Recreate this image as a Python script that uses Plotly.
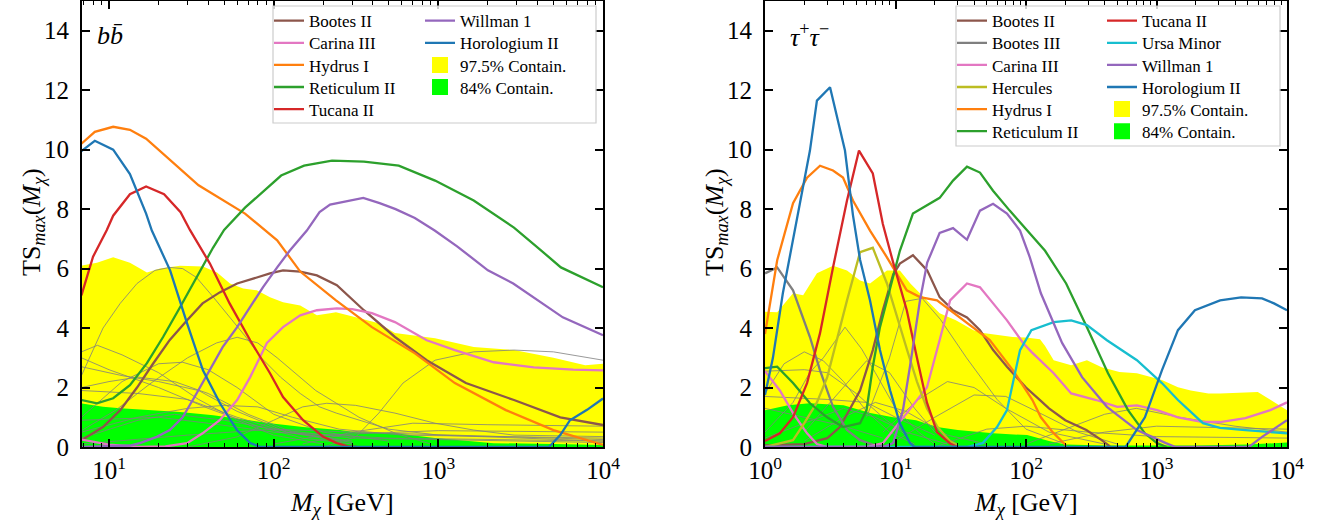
import plotly.graph_objects as go

# ---------------- data : b bbar channel (left) ----------------
bb_bootes2_m = [6.8, 9.2, 11.7, 14.8, 18.5, 23.4, 29.8, 37, 47, 60, 79, 95, 114, 145, 183, 242, 353, 545, 850, 1470, 2880, 5500, 10000]
bb_bootes2_ts = [0.23, 0.67, 1.24, 2.0, 2.8, 3.6, 4.26, 4.83, 5.2, 5.5, 5.7, 5.84, 5.94, 5.9, 5.77, 5.44, 4.6, 3.7, 2.92, 2.15, 1.58, 1.0, 0.74]
bb_carina3_m = [6.8, 10, 15, 22, 29.8, 37, 47, 60, 72, 91, 114, 145, 183, 242, 300, 395, 545, 850, 1260, 2170, 3800, 6600, 10000]
bb_carina3_ts = [0.25, 0.08, 0.0, 0.02, 0.13, 0.46, 0.9, 1.58, 2.35, 3.5, 4.03, 4.43, 4.6, 4.66, 4.64, 4.5, 4.2, 3.59, 3.26, 2.85, 2.68, 2.6, 2.58]
bb_hydrus1_m = [6.8, 8.2, 10.6, 13.4, 16.8, 21.6, 35, 67, 105, 145, 239, 395, 721, 1260, 2570, 5000, 10000]
bb_hydrus1_ts = [10.2, 10.6, 10.77, 10.67, 10.37, 9.83, 8.8, 7.85, 6.95, 5.9, 4.93, 4.03, 3.15, 2.15, 1.24, 0.57, 0.07]
bb_reticulum2_m = [6.8, 8.45, 10.6, 13.4, 17, 21.3, 27, 34.2, 42.8, 50, 67, 111, 153, 226, 353, 575, 955, 1640, 2880, 4030, 5550, 10000]
bb_reticulum2_ts = [1.58, 1.47, 1.64, 2.08, 2.82, 3.7, 4.7, 5.7, 6.7, 7.3, 8.05, 9.13, 9.46, 9.63, 9.6, 9.46, 8.96, 8.29, 7.38, 6.7, 6.04, 5.37]
bb_tucana2_m = [6.8, 8.0, 9.7, 10.6, 13.4, 16.8, 21.6, 27.2, 31, 41, 54, 72, 95, 114, 151, 200, 242, 283, 320]
bb_tucana2_ts = [5.1, 6.4, 7.3, 7.78, 8.5, 8.76, 8.5, 7.9, 7.3, 6.17, 4.83, 3.59, 2.48, 1.68, 0.9, 0.34, 0.13, 0.02, 0.0]
bb_willman1_m = [6.8, 13.4, 15.4, 19.5, 23.4, 28, 34, 41, 49, 60, 72, 86, 105, 125, 159, 190, 220, 300, 350, 440, 550, 720, 950, 1300, 2000, 2850, 4000, 5700, 10000]
bb_willman1_ts = [0.0, 0.05, 0.13, 0.34, 0.57, 1.0, 1.8, 2.58, 3.36, 4.03, 4.7, 5.37, 6.04, 6.6, 7.28, 7.9, 8.15, 8.3, 8.38, 8.2, 8.0, 7.7, 7.28, 6.75, 5.94, 5.5, 4.93, 4.36, 3.76]
bb_horologium2_m = [6.8, 8.2, 10.6, 13.4, 16.8, 18.2, 23.5, 29.8, 37.2, 47.2, 59.8, 72, 83, 4700, 5500, 6300, 8000, 10000]
bb_horologium2_ts = [9.95, 10.3, 10.0, 9.18, 7.85, 7.28, 5.94, 4.16, 2.58, 1.47, 0.57, 0.13, 0.0, 0.0, 0.4, 0.9, 1.25, 1.63]
bb_c975_m = [6.8, 8.45, 10.6, 13.4, 17, 20.4, 27, 37.2, 45.3, 54.3, 65.3, 79, 95, 114, 145, 183, 220, 239, 315, 435, 545, 955, 1640, 2880, 5000, 7800, 10000]
bb_c975_ts = [6.1, 6.2, 6.38, 6.2, 5.87, 6.0, 6.1, 6.07, 5.87, 5.5, 5.33, 5.27, 5.04, 4.87, 4.76, 4.43, 4.5, 4.53, 4.36, 4.16, 3.83, 3.66, 3.36, 3.26, 3.0, 2.75, 2.8]
bb_c84_m = [6.8, 9.2, 11.7, 18.5, 27, 43, 69, 95, 151, 253, 315, 545, 955, 2170, 5000, 10000]
bb_c84_ts = [1.47, 1.35, 1.3, 1.24, 1.18, 1.07, 0.9, 0.8, 0.67, 0.57, 0.5, 0.46, 0.3, 0.13, 0.1, 0.07]
bb_grey = [
    ([6.8, 9.2, 11.7, 14.8, 19, 23.4, 28, 34, 43, 54, 68, 84, 110, 145, 190, 240, 500, 1000, 10000],
     [2.4, 4.0, 4.83, 5.5, 5.94, 6.04, 6.0, 5.7, 5.04, 4.36, 3.69, 3.0, 2.35, 1.8, 1.35, 1.14, 0.6, 0.4, 0.2]),
    ([6.8, 11, 18, 30, 45, 60, 80, 105, 180, 330, 550, 900], [0.55, 1.24, 2.15, 3.0, 3.5, 3.69, 3.5, 3.0, 1.9, 1.0, 0.46, 0.1]),
    ([200, 315, 435, 610, 955, 1640, 2880, 5000, 10000], [0.0, 0.34, 1.14, 2.15, 2.92, 3.2, 3.26, 3.2, 2.92]),
    ([30, 60, 100, 150, 210, 315, 545, 955, 1640, 2880, 10000], [0.0, 0.34, 0.9, 1.35, 1.47, 1.4, 1.14, 0.8, 0.57, 0.4, 0.35]),
    ([6.8, 15, 30, 50, 80, 130, 250, 600, 10000], [0.5, 1.0, 1.3, 1.4, 1.35, 1.0, 0.6, 0.4, 0.3]),
    ([6.8, 8.5, 12, 20, 35, 60, 100, 200], [3.2, 3.42, 3.1, 2.5, 1.6, 0.9, 0.4, 0.1]),
    ([6.8, 10, 20, 40, 80, 150, 300], [3.0, 2.6, 2.0, 1.3, 0.7, 0.3, 0.1]),
    ([6.8, 10, 15, 25, 40, 70, 130, 300], [2.0, 2.2, 2.35, 2.2, 1.8, 1.1, 0.5, 0.15]),
    ([6.8, 12, 20, 35, 60, 120, 250], [2.7, 2.4, 2.2, 1.9, 1.2, 0.5, 0.2]),
    ([6.8, 15, 30, 60, 120, 300], [1.9, 1.8, 1.6, 1.0, 0.5, 0.2]),
    ([6.8, 12, 20, 28, 40, 60, 100, 200, 500], [1.0, 2.2, 2.8, 2.85, 2.6, 2.0, 1.1, 0.5, 0.2]),
    ([6.8, 15, 25, 50, 100, 300, 10000], [0.3, 0.9, 1.1, 0.9, 0.6, 0.3, 0.15]),
    ([6.8, 20, 40, 100, 500, 10000], [0.9, 1.0, 0.8, 0.5, 0.3, 0.2]),
    ([150, 300, 700, 2000, 10000], [0.1, 0.5, 0.8, 0.75, 0.7]),
    ([100, 200, 1000, 10000], [0.1, 0.4, 0.55, 0.5]),
    ([6.8, 30, 100, 300, 10000], [0.1, 0.4, 0.6, 0.5, 0.25]),
]

# ---------------- data : tau+ tau- channel (right) ----------------
tt_bootes2_m = [1.0, 2.0, 3.0, 3.75, 5.35, 6.7, 8.0, 9.6, 10.8, 13.6, 17.5, 21.8, 27.6, 35.3, 44.4, 56, 71.5, 100, 128, 150, 200, 290, 380, 440]
tt_bootes2_ts = [0.05, 0.1, 0.3, 0.67, 1.9, 3.26, 4.6, 5.8, 6.17, 6.45, 5.94, 5.04, 4.6, 4.36, 3.93, 3.26, 2.7, 2.0, 1.58, 1.3, 0.9, 0.57, 0.23, 0.02]
tt_bootes3_m = [1.0, 1.24, 1.64, 2.21, 2.64, 3.32, 4.25, 5.35, 7.0, 9.0]
tt_bootes3_ts = [5.84, 6.04, 5.27, 3.7, 2.58, 1.35, 0.57, 0.23, 0.05, 0.0]
tt_carina3_m = [1.0, 1.3, 1.64, 2.1, 2.5, 3.0, 6.0, 8.0, 12.2, 17.4, 21.8, 26.2, 35.3, 44.4, 56, 71.5, 95, 110, 163, 222, 345, 500, 708, 1010, 1460, 2270, 3070, 4800, 7450, 10000]
tt_carina3_ts = [2.55, 1.9, 1.14, 0.46, 0.1, 0.0, 0.0, 0.13, 1.14, 2.0, 3.6, 4.93, 5.5, 5.37, 4.83, 4.26, 3.5, 3.2, 2.48, 1.8, 1.58, 1.35, 1.4, 1.24, 1.0, 0.84, 0.84, 0.97, 1.24, 1.5]
tt_hercules_m = [1.0, 1.64, 2.0, 2.5, 3.0, 3.5, 4.25, 5.35, 6.7, 8.6, 10.2, 12.2, 14.6, 17.4, 20.8, 26, 30]
tt_hercules_ts = [0.0, 0.23, 0.8, 1.5, 2.35, 3.5, 4.93, 6.55, 6.7, 5.5, 4.4, 3.3, 2.2, 1.3, 0.7, 0.2, 0.05]
tt_hydrus1_m = [1.0, 1.24, 1.64, 2.1, 2.64, 3.32, 3.96, 4.72, 6.38, 8.6, 12.2, 15.4, 20.8, 26.2, 35.3, 52.8, 79.5, 112, 130, 160, 203]
tt_hydrus1_ts = [3.8, 6.28, 8.2, 9.06, 9.46, 9.3, 9.06, 8.29, 7.28, 6.38, 5.27, 5.04, 4.93, 4.6, 4.2, 3.6, 2.58, 1.58, 1.0, 0.5, 0.05]
tt_reticulum2_m = [1.0, 1.24, 1.64, 2.21, 2.99, 3.96, 5.35, 6.0, 6.7, 7.6, 8.6, 10.8, 13.6, 17.5, 21.8, 27.6, 35.3, 44.4, 55.9, 75, 102, 140, 203, 293, 425, 605, 815, 1010, 1200]
tt_reticulum2_ts = [2.65, 2.7, 2.15, 1.47, 1.0, 0.67, 0.8, 1.24, 2.7, 4.03, 4.93, 6.6, 7.85, 8.12, 8.38, 8.96, 9.43, 9.23, 8.62, 7.95, 7.28, 6.6, 5.5, 4.03, 2.48, 1.24, 0.46, 0.13, 0.0]
tt_tucana2_m = [1.0, 1.3, 1.64, 2.1, 2.64, 3.32, 4.25, 5.25, 6.7, 8.0, 9.6, 12.2, 14.6, 17.4, 20.8, 26.2, 30]
tt_tucana2_ts = [0.2, 0.46, 1.0, 2.15, 3.83, 6.04, 8.29, 9.97, 9.2, 7.5, 6.2, 4.6, 3.0, 1.5, 0.5, 0.12, 0.0]
tt_ursaminor_m = [1.0, 35, 46.6, 60, 71.5, 90, 110, 163, 222, 293, 417, 708, 1100, 1460, 2270, 3070, 4800, 7450, 10000]
tt_ursaminor_ts = [0.0, 0.0, 0.13, 0.67, 1.24, 3.26, 3.93, 4.2, 4.26, 4.1, 3.59, 2.92, 2.15, 1.58, 0.8, 0.64, 0.57, 0.5, 0.46]
tt_willman1_m = [1.0, 8.0, 9.6, 11.4, 12.9, 14.1, 15.4, 17.5, 21.8, 27.6, 35.3, 44.4, 55.9, 71.5, 90, 107, 130, 189, 269, 417, 708, 1180, 1400, 5100, 6440, 10000]
tt_willman1_ts = [0.0, 0.0, 0.13, 1.24, 2.7, 3.83, 4.93, 6.2, 7.2, 7.36, 6.97, 7.95, 8.18, 7.85, 7.28, 6.38, 5.17, 3.5, 2.35, 1.35, 0.57, 0.13, 0.0, 0.0, 0.34, 0.9]
tt_horologium2_m = [1.0, 1.15, 1.37, 1.64, 1.96, 2.21, 2.5, 3.15, 4.1, 4.72, 5.35, 6.38, 7.6, 9.1, 10.8, 12.9, 14, 580, 815, 1100, 1460, 1970, 3070, 4450, 6440, 7950, 10000]
tt_horologium2_ts = [1.75, 3.0, 5.17, 6.95, 8.7, 9.97, 11.65, 12.1, 9.97, 7.8, 6.3, 4.93, 3.26, 1.9, 0.8, 0.13, 0.0, 0.0, 1.0, 2.58, 3.93, 4.6, 4.93, 5.03, 5.0, 4.83, 4.6]
tt_c975_m = [1.0, 1.24, 1.64, 1.96, 2.5, 3.32, 4.25, 5.35, 6.38, 8.6, 10.8, 13, 16.5, 21.8, 29, 39.6, 47, 62, 79, 100, 128, 140, 163, 222, 293, 380, 520, 708, 1100, 1460, 1830, 2500, 3070, 5970, 7450, 10000]
tt_c975_ts = [4.55, 4.53, 5.17, 5.1, 5.84, 6.1, 5.94, 5.6, 5.5, 5.94, 5.94, 5.5, 5.04, 4.5, 4.26, 3.93, 3.83, 3.75, 3.7, 3.68, 3.62, 3.4, 2.92, 2.75, 2.92, 2.68, 2.52, 2.48, 2.25, 2.01, 1.9, 1.8, 1.8, 1.85, 1.58, 1.24]
tt_c84_m = [1.0, 1.5, 2.2, 4.0, 6.4, 9.6, 14.4, 20.8, 30, 56, 102, 150, 200, 400, 2000, 5000, 10000]
tt_c84_ts = [1.24, 1.4, 1.47, 1.4, 1.14, 1.0, 0.9, 0.67, 0.57, 0.46, 0.4, 0.2, 0.08, 0.05, 0.05, 0.08, 0.15]
tt_grey = [
    ([1.0, 1.4, 2.0, 2.8, 4.0, 6.0, 9.0, 14.0], [1.8, 2.8, 3.2, 2.9, 2.2, 1.2, 0.5, 0.1]),
    ([1.0, 1.64, 2.2, 2.8, 4.1, 5.5, 7.0, 10.0, 15.0, 20.0], [0.5, 1.5, 2.5, 3.0, 4.03, 3.3, 2.5, 1.3, 0.5, 0.1]),
    ([1.0, 2.0, 3.0, 5.0, 8.0, 12.0], [2.55, 2.6, 2.5, 1.8, 1.0, 0.4]),
    ([2.0, 4.0, 6.0, 9.0, 14.0, 20.0, 30.0], [0.5, 2.0, 2.9, 2.5, 1.3, 0.5, 0.1]),
    ([6.0, 9.0, 12.0, 16.0, 22.0, 35.0, 60.0, 100.0, 200.0], [1.0, 3.0, 4.9, 5.0, 4.3, 3.0, 1.6, 0.6, 0.1]),
    ([10, 20, 40, 70, 120, 250, 500], [0.2, 1.0, 1.75, 1.7, 1.2, 0.5, 0.1]),
    ([8, 15, 25, 40, 70, 150, 400], [0.5, 1.6, 2.2, 2.0, 1.3, 0.5, 0.1]),
    ([100, 200, 400, 700, 1500, 4000, 10000], [0.1, 0.6, 1.1, 1.3, 1.0, 0.7, 0.5]),
    ([150, 400, 1000, 3000, 10000], [0.1, 0.5, 0.7, 0.65, 0.6]),
    ([20, 50, 100, 300, 1000, 10000], [0.0, 0.6, 0.7, 0.5, 0.35, 0.3]),
    ([1.0, 2.0, 4.0, 8.0], [1.3, 1.0, 0.7, 0.3]),
    ([1.0, 2.0, 4.0, 7.0, 12.0, 25.0], [0.3, 0.8, 1.3, 1.0, 0.5, 0.1]),
    ([1.0, 3.0, 6.0, 10.0, 20.0], [1.7, 1.6, 1.5, 1.0, 0.4]),
    ([2.0, 4.0, 7.0, 12.0, 25.0, 50.0], [0.2, 1.0, 1.5, 1.2, 0.4, 0.1]),
]

x_tickvals = [1, 10, 100, 1000, 10000]
x_ticktext = ["10<sup>0</sup>", "10<sup>1</sup>", "10<sup>2</sup>", "10<sup>3</sup>", "10<sup>4</sup>"]
y_tickvals = [0, 2, 4, 6, 8, 10, 12, 14]

C = dict(brown="#8c564b", pink="#e377c2", orange="#ff7f0e", green="#2ca02c", red="#d62728",
         purple="#9467bd", blue="#1f77b4", grey="#7f7f7f", olive="#bcbd22", cyan="#17becf")
YELLOW, LIME = "#ffff00", "#00ff00"
GREY_THIN = "rgba(128,128,128,0.8)"
FONT = "Liberation Serif"
LEG_SIZE = 17

W, H = 1333, 524
PB = 447  # pixel row of plot bottom
PH = 446  # plot height in px


def pxx(p):
    return p / W


def pxy(p):
    return (PB - p) / PH


fig = go.Figure()

# legend slots: (text-left pixel, row-centre pixel)
LEG_ROW0, LEG_DY = 20.7, 22.1
legend_slots = []


def new_legend(text_x, row):
    legend_slots.append((text_x, LEG_ROW0 + LEG_DY * row))
    n = len(legend_slots)
    return "legend" if n == 1 else "legend%d" % n


def fill(m, ts, color, xa, ya):
    fig.add_trace(go.Scatter(x=m, y=ts, mode="lines", line=dict(width=0), fill="tozeroy",
                             fillcolor=color, showlegend=False, hoverinfo="skip", xaxis=xa, yaxis=ya))


def line(m, ts, color, width, name, xa, ya, slot=None):
    leg = new_legend(*slot) if slot else "legend"
    fig.add_trace(go.Scatter(x=m, y=ts, mode="lines", line=dict(color=color, width=width),
                             name=name, showlegend=slot is not None, legend=leg,
                             xaxis=xa, yaxis=ya))


def patch(color, name, xa, ya, slot):
    fig.add_trace(go.Scatter(x=[None], y=[None], mode="markers",
                             marker=dict(symbol="square", size=16, color=color),
                             name=name, legend=new_legend(*slot), xaxis=xa, yaxis=ya))


LW = 2.3
L1, L2 = 309, 460    # left legend text columns
R1, R2 = 992, 1142   # right legend text columns
# left panel
fill(bb_c975_m, bb_c975_ts, YELLOW, "x", "y")
fill(bb_c84_m, bb_c84_ts, LIME, "x", "y")
for gm, gt in bb_grey:
    line(gm, gt, GREY_THIN, 1, "", "x", "y")
line(bb_bootes2_m, bb_bootes2_ts, C["brown"], LW, "Bootes II", "x", "y", (L1, 0))
line(bb_carina3_m, bb_carina3_ts, C["pink"], LW, "Carina III", "x", "y", (L1, 1))
line(bb_hydrus1_m, bb_hydrus1_ts, C["orange"], LW, "Hydrus I", "x", "y", (L1, 2))
line(bb_reticulum2_m, bb_reticulum2_ts, C["green"], LW, "Reticulum II", "x", "y", (L1, 3))
line(bb_tucana2_m, bb_tucana2_ts, C["red"], LW, "Tucana II", "x", "y", (L1, 4))
line(bb_willman1_m, bb_willman1_ts, C["purple"], LW, "Willman 1", "x", "y", (L2, 0))
line(bb_horologium2_m, bb_horologium2_ts, C["blue"], LW, "Horologium II", "x", "y", (L2, 1))
patch(YELLOW, "97.5% Contain.", "x", "y", (L2, 2))
patch(LIME, "84% Contain.", "x", "y", (L2, 3))

# right panel
fill(tt_c975_m, tt_c975_ts, YELLOW, "x2", "y2")
fill(tt_c84_m, tt_c84_ts, LIME, "x2", "y2")
for gm, gt in tt_grey:
    line(gm, gt, GREY_THIN, 1, "", "x2", "y2")
line(tt_bootes2_m, tt_bootes2_ts, C["brown"], LW, "Bootes II", "x2", "y2", (R1, 0))
line(tt_bootes3_m, tt_bootes3_ts, C["grey"], LW, "Bootes III", "x2", "y2", (R1, 1))
line(tt_carina3_m, tt_carina3_ts, C["pink"], LW, "Carina III", "x2", "y2", (R1, 2))
line(tt_hercules_m, tt_hercules_ts, C["olive"], LW, "Hercules", "x2", "y2", (R1, 3))
line(tt_hydrus1_m, tt_hydrus1_ts, C["orange"], LW, "Hydrus I", "x2", "y2", (R1, 4))
line(tt_reticulum2_m, tt_reticulum2_ts, C["green"], LW, "Reticulum II", "x2", "y2", (R1, 5))
line(tt_tucana2_m, tt_tucana2_ts, C["red"], LW, "Tucana II", "x2", "y2", (R2, 0))
line(tt_ursaminor_m, tt_ursaminor_ts, C["cyan"], LW, "Ursa Minor", "x2", "y2", (R2, 1))
line(tt_willman1_m, tt_willman1_ts, C["purple"], LW, "Willman 1", "x2", "y2", (R2, 2))
line(tt_horologium2_m, tt_horologium2_ts, C["blue"], LW, "Horologium II", "x2", "y2", (R2, 3))
patch(YELLOW, "97.5% Contain.", "x2", "y2", (R2, 4))
patch(LIME, "84% Contain.", "x2", "y2", (R2, 5))


def minor_vals(start_decade):
    vals = []
    for d in range(start_decade, 4):
        for k in range(2, 10):
            vals.append(k * 10 ** d)
    return vals


tickfont = dict(family=FONT, size=25, color="black")
common_x = dict(type="log", showgrid=False, zeroline=False, showline=True, linecolor="black", linewidth=2,
                mirror="allticks", ticks="inside", ticklen=8, tickwidth=1.5, tickcolor="black",
                tickmode="array", tickvals=x_tickvals, ticktext=x_ticktext, tickfont=tickfont,
                ticklabelstandoff=0, automargin=False)
common_y = dict(range=[0, 15], showgrid=False, zeroline=False, showline=True, linecolor="black", linewidth=2,
                mirror="allticks", ticks="inside", ticklen=8, tickwidth=1.5, tickcolor="black",
                tickmode="array", tickvals=y_tickvals, tickfont=tickfont, domain=[0, 1],
                ticklabelstandoff=6, automargin=False)

fig.update_layout(
    xaxis=dict(common_x, range=[0.836, 4], domain=[pxx(82), pxx(603)], anchor="y",
               minor=dict(ticks="inside", ticklen=4, tickwidth=1, tickcolor="black",
                          tickmode="array", tickvals=[7, 8, 9] + minor_vals(1))),
    xaxis2=dict(common_x, range=[0, 4], domain=[pxx(765), pxx(1287)], anchor="y2",
                minor=dict(ticks="inside", ticklen=4, tickwidth=1, tickcolor="black",
                           tickmode="array", tickvals=minor_vals(0))),
    yaxis=dict(common_y, anchor="x"),
    yaxis2=dict(common_y, anchor="x2"),
)

# one single-entry legend per slot, so that rows sit exactly where the reference has them
item_h = max(1.3 * LEG_SIZE, 16) + 3
legends = {}
for i, (tx, cy) in enumerate(legend_slots):
    key = "legend" if i == 0 else "legend%d" % (i + 1)
    legends[key] = dict(x=pxx(tx - 40), y=pxy(cy - item_h / 2 - 5), xanchor="left", yanchor="top",
                        bgcolor="rgba(0,0,0,0)", borderwidth=0, orientation="v",
                        font=dict(family=FONT, size=LEG_SIZE, color="black"))
fig.update_layout(**legends)

# legend frames
for (x0, y0, x1, y1) in [(273, 6, 596, 123), (956, 6, 1280, 146)]:
    fig.add_shape(type="rect", xref="paper", yref="paper", x0=pxx(x0), x1=pxx(x1), y0=pxy(y1), y1=pxy(y0),
                  line=dict(color="#cccccc", width=1.2), fillcolor="rgba(255,255,255,0.8)", layer="above")

ann_font = dict(family=FONT, size=26, color="black")
annotations = [
    dict(text="<i>b</i><i>b\u0304</i>", x=pxx(95), y=pxy(35), xanchor="left", yanchor="middle"),
    dict(text="<i>\u03c4</i><sup>+</sup><i>\u03c4</i><sup>\u2212</sup>", x=pxx(788), y=pxy(35), xanchor="left", yanchor="middle"),
    dict(text="<i>M</i><sub><i>\u03c7</i></sub> [GeV]", x=pxx(342), y=pxy(504), xanchor="center", yanchor="middle"),
    dict(text="<i>M</i><sub><i>\u03c7</i></sub> [GeV]", x=pxx(1026), y=pxy(504), xanchor="center", yanchor="middle"),
    dict(text="TS<sub><i>max</i></sub>(<i>M</i><sub><i>\u03c7</i></sub>)", x=pxx(33), y=pxy(222),
         xanchor="center", yanchor="middle", textangle=-90),
    dict(text="TS<sub><i>max</i></sub>(<i>M</i><sub><i>\u03c7</i></sub>)", x=pxx(716), y=pxy(222),
         xanchor="center", yanchor="middle", textangle=-90),
]
for a in annotations:
    fig.add_annotation(xref="paper", yref="paper", showarrow=False, font=ann_font, **a)

fig.update_layout(width=W, height=H, margin=dict(l=0, r=0, t=1, b=H - PB, autoexpand=False),
                  paper_bgcolor="white", plot_bgcolor="white", showlegend=True)

fig.write_html("out.html", config={"displayModeBar": False},
               post_script="document.body.style.margin='0px';")
